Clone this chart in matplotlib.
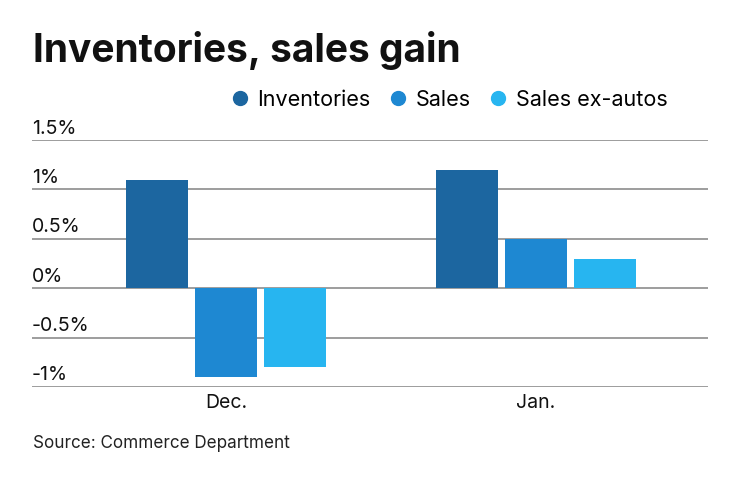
import matplotlib.pyplot as plt
import matplotlib.transforms as mtransforms
import numpy as np

plt.rcParams['font.family'] = ['Inter', 'DejaVu Sans']

months = ["Dec.", "Jan."]
series = ["Inventories", "Sales", "Sales ex-autos"]
inventories = [1.1, 1.2]
sales = [-0.9, 0.5]
sales_ex_autos = [-0.8, 0.3]
yticks = [-1, -0.5, 0, 0.5, 1, 1.5]
ytick_labels = ["-1%", "-0.5%", "0%", "0.5%", "1%", "1.5%"]

colors = ["#1c66a0", "#1e88d2", "#27b5f0"]

fig = plt.figure(figsize=(7.4, 4.82), dpi=100)
W, H = 740, 482
ax = fig.add_axes([32 / W, (H - 387) / H, (708 - 32) / W, (387 - 140) / H])

x = np.arange(len(months))
pitch = 0.224
width = 0.2
for i, (vals, c) in enumerate(zip([inventories, sales, sales_ex_autos], colors)):
    ax.bar(x + (i - 1) * pitch, vals, width, color=c, zorder=3, label=series[i])

ax.set_xlim(-0.626, 1.555)
ax.set_ylim(-1, 1.5)

for s in ax.spines.values():
    s.set_visible(False)
for v in yticks:
    ax.axhline(v, color="#8c8c8c", lw=1.2, zorder=1)

# tick labels sit just above their gridline
trans = mtransforms.blended_transform_factory(ax.transAxes, ax.transData)
trans = trans + mtransforms.ScaledTranslation(0, 2.5 / 100, fig.dpi_scale_trans)
for v, lab in zip(yticks, ytick_labels):
    ax.text(0.0, v, lab, transform=trans, ha="left", va="bottom",
            fontsize=14, color="#111111")

ax.set_yticks([])
ax.set_xticks(x)
ax.set_xticklabels(months, fontsize=14, color="#111111")
ax.tick_params(axis="x", length=0, pad=5)

fig.text(33 / W, 1 - 50 / H, "Inventories, sales gain", fontsize=28,
         fontweight="bold", ha="left", va="center", color="#111111")

handles = [plt.Line2D([], [], marker="o", ls="", color=c, markersize=10) for c in colors]
fig.legend(handles, series, loc="center right", bbox_to_anchor=(676 / W, 1 - 100 / H),
           ncol=3, frameon=False, fontsize=15.5, handletextpad=0.3,
           columnspacing=0.8, handlelength=1.0, borderaxespad=0)

fig.text(33 / W, 1 - 443 / H, "Source: Commerce Department", fontsize=12.3,
         ha="left", va="center", color="#222222")

fig.savefig("out.png", dpi=100)
